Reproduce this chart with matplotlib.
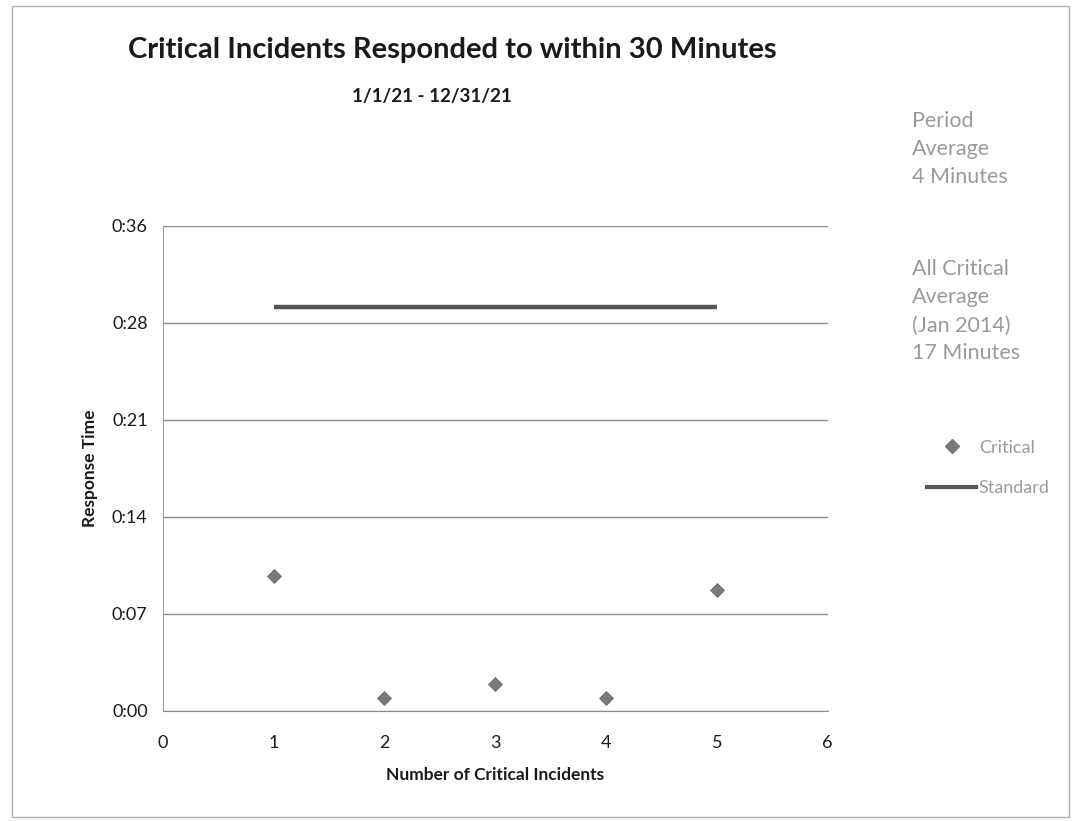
import matplotlib
matplotlib.use('Agg')
import matplotlib.pyplot as plt
from matplotlib.lines import Line2D
from matplotlib.patches import Rectangle
from matplotlib.ticker import FuncFormatter, MultipleLocator

# ─── Data (response times in minutes) ────────────────────────────────────────
incident_no   = [1, 2, 3, 4, 5]
response_mins = [10, 1, 2, 1, 9]
standard_x    = [1, 5]
standard_mins = [30, 30]

FONT = ['Lato', 'DejaVu Sans']
C_TEXT = "#1a1a1a"
C_GRID = "#8c8c8c"
C_NOTE = "#9a9a9a"


def hmm(v, pos):
    # h:mm with seconds dropped (7.2 min steps -> 0:07, 0:14, ...)
    m = int(v + 1e-6)
    return f"{m // 60}:{m % 60:02d}"


fig = plt.figure(figsize=(10.72, 8.21), dpi=100)
fig.patch.set_facecolor('white')
ax = fig.add_axes([0.152, 0.134, 0.620, 0.591])

# critical incidents + the 30-minute standard
ax.scatter(incident_no, response_mins, marker='D', s=50, color="#7a7a7a",
           edgecolor="#6a6a6a", linewidth=0.6, zorder=3)
ax.plot(standard_x, standard_mins, color="#555555", lw=3.2,
        solid_capstyle='butt', zorder=3)

ax.set_xlim(0, 6)
ax.set_ylim(0, 36)
ax.xaxis.set_major_locator(MultipleLocator(1))
ax.yaxis.set_major_locator(MultipleLocator(7.2))
ax.yaxis.set_major_formatter(FuncFormatter(hmm))
ax.grid(axis='y', color=C_GRID, lw=1.0)
ax.set_axisbelow(True)

for s in ('top', 'right'):
    ax.spines[s].set_visible(False)
ax.spines['left'].set_color("#a0a0a0")
ax.spines['bottom'].set_color(C_GRID)
ax.tick_params(length=0, labelsize=13, colors=C_TEXT)
ax.tick_params(axis='x', pad=17)
ax.tick_params(axis='y', pad=11)
for lbl in ax.get_xticklabels() + ax.get_yticklabels():
    lbl.set_fontfamily(FONT)

ax.set_xlabel("Number of Critical Incidents", fontsize=12.5, fontweight='bold',
              family=FONT, color=C_TEXT, labelpad=12)
ax.set_ylabel("Response Time", fontsize=12.5, fontweight='bold',
              family=FONT, color=C_TEXT, labelpad=10)

# ─── Title ───────────────────────────────────────────────────────────────────
fig.text(0.4216, 0.9395, "Critical Incidents Responded to within 30 Minutes",
         ha='center', va='center', fontsize=21, fontweight='bold',
         family=FONT, color=C_TEXT)
fig.text(0.403, 0.882, "1/1/21 - 12/31/21", ha='center', va='center',
         fontsize=13.5, fontweight='bold', family=FONT, color=C_TEXT)

# ─── Side notes ──────────────────────────────────────────────────────────────
fig.text(0.851, 0.865, "Period\nAverage\n4 Minutes", ha='left', va='top',
         fontsize=15.5, family=FONT, color=C_NOTE, linespacing=1.5)
fig.text(0.851, 0.684, "All Critical\nAverage\n(Jan 2014)\n17 Minutes",
         ha='left', va='top', fontsize=15.5, family=FONT, color=C_NOTE,
         linespacing=1.5)

# ─── Legend ──────────────────────────────────────────────────────────────────
handles = [
    Line2D([], [], marker='D', ls='none', color="#7a7a7a", markersize=7),
    Line2D([], [], color="#555555", lw=3.0),
]
fig.legend(handles, ["Critical", "Standard"], loc='center left',
           bbox_to_anchor=(0.865, 0.430), frameon=False,
           prop={'family': FONT, 'size': 13}, labelcolor=C_NOTE,
           handlelength=2.7, handletextpad=0.15, labelspacing=1.35,
           borderpad=0, borderaxespad=0)

# page border
fig.add_artist(Rectangle((0.011, 0.005), 0.986, 0.988, transform=fig.transFigure,
                         fill=False, edgecolor="#b0b0b0", lw=1.0))

plt.savefig("out.png", dpi=100, facecolor='white')
